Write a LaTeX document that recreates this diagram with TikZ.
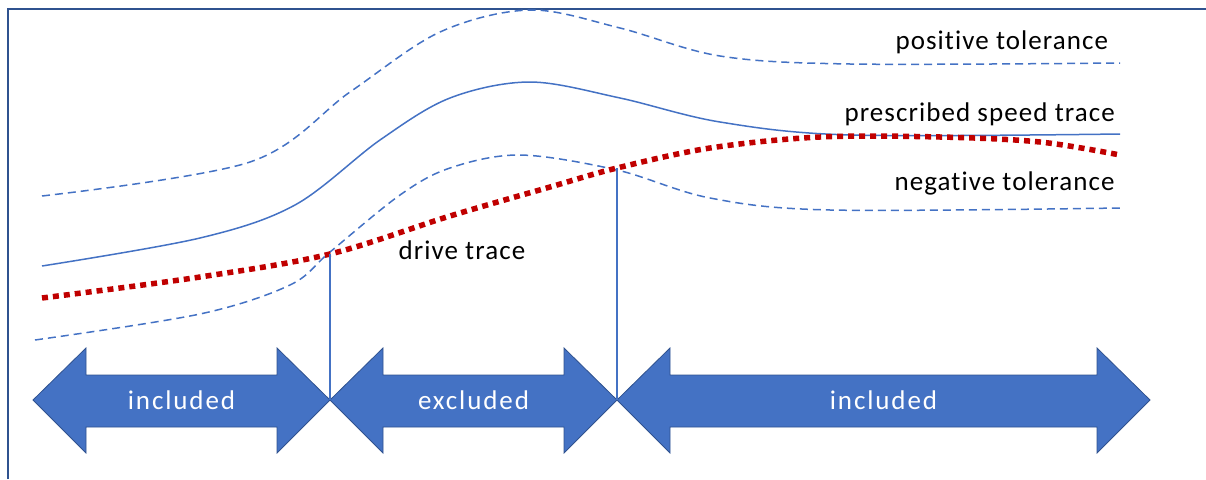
\documentclass[tikz,border=0pt]{standalone}
\usepackage{fontspec}
\setmainfont{Carlito}[Ligatures=NoCommon]
\definecolor{framec}{HTML}{2F528F}
\definecolor{lineblue}{HTML}{4472C4}
\definecolor{drivered}{HTML}{C00000}
\tikzset{
  curve/.style={lineblue, line width=1.5pt},
  tolcurve/.style={curve, dash pattern=on 8pt off 5pt},
  drivecurve/.style={drivered, line width=5.5pt, dash pattern=on 6pt off 5pt},
  marker/.style={lineblue, line width=1.5pt},
  arrowbody/.style={fill=lineblue, draw=framec, line width=0.8pt, line join=miter},
  label/.style={font=\fontsize{27}{31}\selectfont\addfontfeatures{LetterSpace=4}, text=black},
  arrowlabel/.style={font=\fontsize{27}{31}\selectfont\addfontfeatures{LetterSpace=7}, text=white},
}
\newcommand{\dblarrow}[4]{%
  \draw[arrowbody] (#1,400) -- (#1+53,348) -- (#1+53,375) -- (#2-53,375) -- (#2-53,348)
    -- (#2,400) -- (#2-53,453) -- (#2-53,427) -- (#1+53,427) -- (#1+53,453) -- cycle;
  \node[arrowlabel] (#4) at ({(#1+#2)/2},400) {#3};
}
\begin{document}
\begin{tikzpicture}[x=1pt,y=-1pt]
\useasboundingbox (0,0) rectangle (1206,479);
\draw[framec, line width=2pt] (8,479) -- (8,9) -- (1206,9);

% positive tolerance
\draw[tolcurve] plot[smooth, tension=0.55] coordinates
  {(42,196) (250,162) (350,92) (440,32) (530,10) (620,28) (720,56) (850,64) (1120,63)};
% prescribed speed trace
\draw[curve] plot[smooth, tension=0.55] coordinates
  {(42,266) (200,238) (295,205) (380,140) (450,98) (530,82) (620,98) (720,122) (850,135) (1120,134)};
% negative tolerance
\draw[tolcurve] plot[smooth, tension=0.55] coordinates
  {(35,340) (200,314) (290,285) (330,252) (400,195) (450,168) (520,155) (617,170) (710,198) (830,210) (1120,208)};
% drive trace
\draw[drivecurve] plot[smooth, tension=0.55] coordinates
  {(42,298) (200,277) (330,254) (450,216) (550,187) (617,168) (710,148) (820,137) (940,137) (1040,142) (1120,155)};

\coordinate (c1) at (330,254);
\coordinate (c2) at (617,168);

\dblarrow{33}{330}{included}{a1}
\dblarrow{330}{617}{excluded}{a2}
\dblarrow{617}{1150}{included}{a3}

\coordinate (t1) at (330,400);
\coordinate (t2) at (617,400);
\draw[marker] (c1) -- (t1);
\draw[marker] (c2) -- (t2);

\node[label, anchor=west] (pt) at (892,42) {positive tolerance};
\node[label, anchor=west] (ps) at (841,114) {prescribed speed trace};
\node[label, anchor=west] (nt) at (891,183) {negative tolerance};
\node[label, anchor=west] (dt) at (395,250) {drive trace};
\end{tikzpicture}
\end{document}
